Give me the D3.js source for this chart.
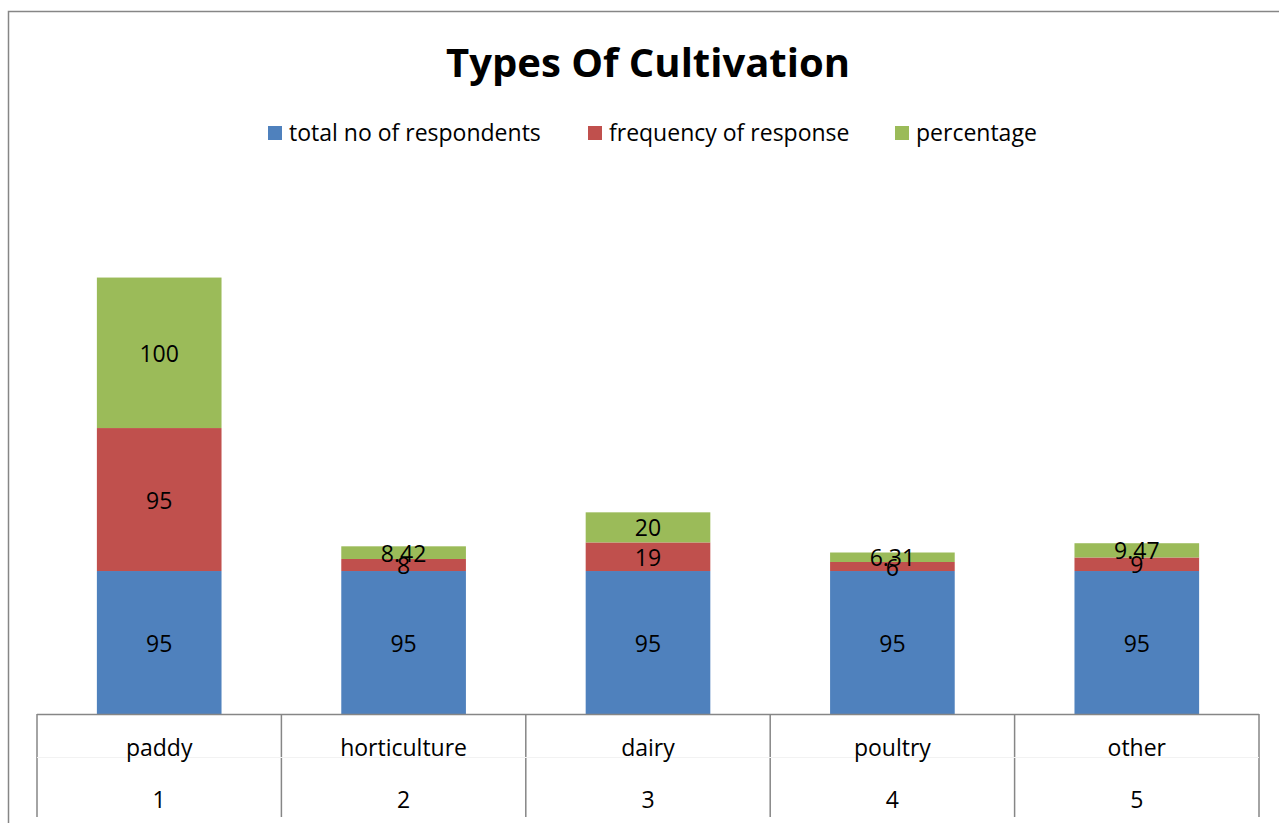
<!DOCTYPE html>
<html>
<head>
<meta charset="utf-8">
<script src="https://cdn.jsdelivr.net/npm/d3@7"></script>
<style>
  html, body { margin: 0; padding: 0; background: #fff; }
  svg { display: block; font-family: "Open Sans", "Liberation Sans", sans-serif; }
</style>
</head>
<body>
<svg id="chart" width="1279" height="823"></svg>
<script>
// Survey data: types of cultivation
const categories = ["paddy", "horticulture", "dairy", "poultry", "other"];
const categoryNumbers = ["1", "2", "3", "4", "5"];
const seriesNames = ["total no of respondents", "frequency of response", "percentage"];
const totalRespondents = [95, 95, 95, 95, 95];
const frequencyOfResponse = [95, 8, 19, 6, 9];
const percentage = [100, 8.42, 20, 6.31, 9.47];
const seriesColors = ["#4F81BD", "#C0504D", "#9BBB59"];

const svg = d3.select("#chart");
const W = 1279, H = 823;
const FS = 23;

// outer chart frame (extends past the right and bottom edges)
svg.append("rect")
  .attr("x", 8.5).attr("y", 11.5)
  .attr("width", W + 20).attr("height", H + 20)
  .attr("fill", "none").attr("stroke", "#868686").attr("stroke-width", 1.5);

// title
svg.append("text")
  .attr("x", 648).attr("y", 77)
  .attr("text-anchor", "middle")
  .attr("font-size", 40).attr("font-weight", "bold")
  .attr("fill", "#000")
  .text("Types Of Cultivation");

// legend
const legendItems = [
  { x: 268, name: seriesNames[0], color: seriesColors[0] },
  { x: 588, name: seriesNames[1], color: seriesColors[1] },
  { x: 895, name: seriesNames[2], color: seriesColors[2] }
];
const legend = svg.append("g");
legendItems.forEach(d => {
  legend.append("rect").attr("x", d.x).attr("y", 126).attr("width", 14).attr("height", 14).attr("fill", d.color);
  legend.append("text").attr("x", d.x + 21).attr("y", 141)
    .attr("font-size", FS).attr("fill", "#000").text(d.name);
});

// scales
const x = d3.scaleBand().domain(categories).range([37, 1259]).paddingInner(0).paddingOuter(0);
const y = d3.scaleLinear().domain([0, 300]).range([714, 714 - 300 * 1.505]);
const barW = x.bandwidth() * 0.51;

const rows = categories.map((c, i) => ({
  category: c,
  total: totalRespondents[i],
  freq: frequencyOfResponse[i],
  pct: percentage[i]
}));
const stack = d3.stack().keys(["total", "freq", "pct"]);
const layers = stack(rows);

const g = svg.append("g");
layers.forEach((layer, li) => {
  g.selectAll(null).data(layer).enter().append("rect")
    .attr("x", d => x(d.data.category) + (x.bandwidth() - barW) / 2)
    .attr("y", d => y(d[1]))
    .attr("width", barW)
    .attr("height", d => y(d[0]) - y(d[1]))
    .attr("fill", seriesColors[li]);
});

// data labels at segment centres
layers.forEach(layer => {
  g.selectAll(null).data(layer).enter().append("text")
    .attr("x", d => x(d.data.category) + x.bandwidth() / 2)
    .attr("y", d => (y(d[0]) + y(d[1])) / 2 + 1)
    .attr("dy", "0.35em")
    .attr("text-anchor", "middle")
    .attr("font-size", FS).attr("fill", "#000")
    .text(d => d.data[layer.key]);
});

// category table below the bars
const table = svg.append("g").attr("stroke", "#868686").attr("stroke-width", 1.5);
table.append("line").attr("x1", 37).attr("x2", 1259).attr("y1", 714.5).attr("y2", 714.5);
const edges = categories.map(c => x(c)).concat([x.range()[1]]);
edges.forEach(ex => {
  table.append("line").attr("x1", ex).attr("x2", ex).attr("y1", 714).attr("y2", 817);
});
svg.append("line").attr("x1", 37).attr("x2", 1259).attr("y1", 757.5).attr("y2", 757.5)
  .attr("stroke", "#f2f2f2").attr("stroke-width", 1);

svg.append("g").selectAll("text").data(categories).enter().append("text")
  .attr("x", d => x(d) + x.bandwidth() / 2).attr("y", 756)
  .attr("text-anchor", "middle").attr("font-size", FS).attr("fill", "#000")
  .text(d => d);
svg.append("g").selectAll("text").data(categoryNumbers).enter().append("text")
  .attr("x", (d, i) => x(categories[i]) + x.bandwidth() / 2).attr("y", 808)
  .attr("text-anchor", "middle").attr("font-size", FS).attr("fill", "#000")
  .text(d => d);
</script>
</body>
</html>
